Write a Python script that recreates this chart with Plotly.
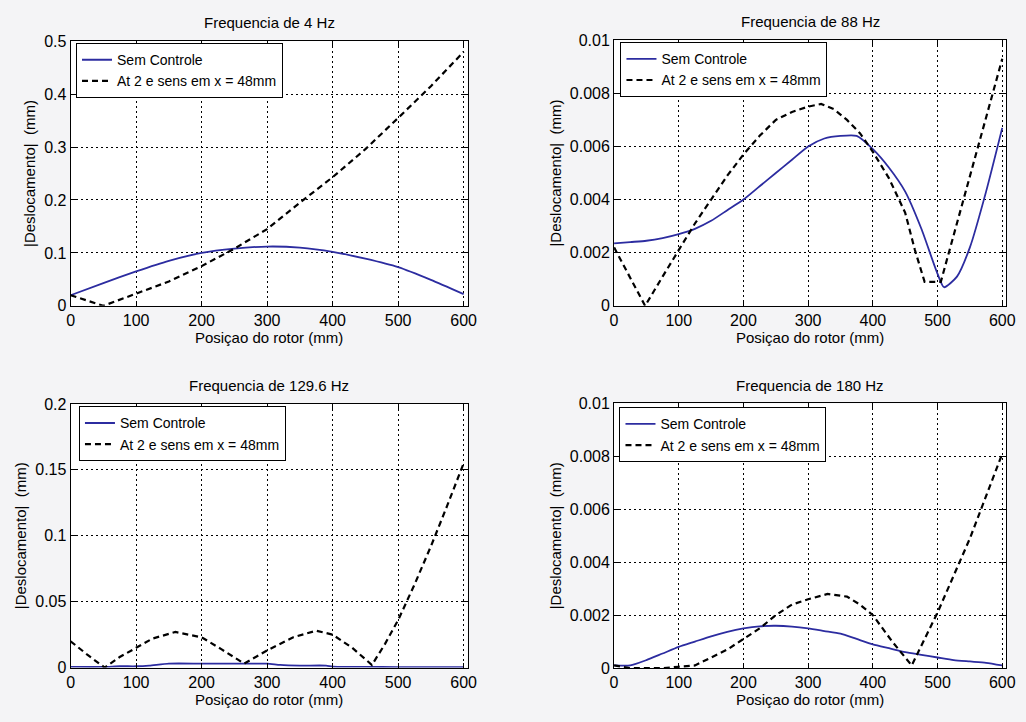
import plotly.graph_objects as go

# ---------------- data ----------------
titles = ["Frequencia de 4 Hz", "Frequencia de 88 Hz", "Frequencia de 129.6 Hz", "Frequencia de 180 Hz"]
series_names = ["Sem Controle", "At 2 e sens em x = 48mm"]
x_label = "Posiçao do rotor (mm)"
y_label = "|Deslocamento| \u00a0(mm)"

x_ticks = [0, 100, 200, 300, 400, 500, 600]
x_ticklabels = ["0", "100", "200", "300", "400", "500", "600"]

# 4 Hz
f1_sem_x = [0, 50, 100, 150, 200, 250, 300, 350, 400, 450, 500, 550, 600]
f1_sem_y = [0.02, 0.043, 0.065, 0.085, 0.100, 0.108, 0.112, 0.110, 0.102, 0.089, 0.073, 0.049, 0.022]
f1_at_x = [0, 50, 100, 150, 200, 250, 300, 350, 400, 450, 500, 550, 600]
f1_at_y = [0.02, 0.0, 0.023, 0.046, 0.075, 0.108, 0.145, 0.195, 0.243, 0.296, 0.355, 0.415, 0.48]
f1_yticks = [0, 0.1, 0.2, 0.3, 0.4, 0.5]
f1_yticklabels = ["0", "0.1", "0.2", "0.3", "0.4", "0.5"]

# 88 Hz
f2_sem_x = [0, 25, 50, 75, 100, 125, 150, 175, 200, 225, 250, 275, 300, 325, 350, 375, 400,
            425, 450, 475, 500, 510, 530, 550, 575, 600]
f2_sem_y = [0.00235, 0.0024, 0.00245, 0.00255, 0.0027, 0.0029, 0.0032, 0.0036, 0.0040, 0.0045,
            0.0050, 0.0055, 0.0060, 0.0063, 0.0064, 0.0064, 0.0059, 0.0052, 0.0043, 0.0029,
            0.0012, 0.0007, 0.0011, 0.0022, 0.0043, 0.0067]
f2_at_x = [0, 48, 75, 100, 125, 150, 175, 200, 225, 250, 275, 300, 320, 340, 360, 380, 400,
           425, 450, 465, 480, 505, 550, 600]
f2_at_y = [0.0022, 0.0, 0.0011, 0.0021, 0.0031, 0.0040, 0.0049, 0.0057, 0.0064, 0.0070, 0.0073,
           0.0075, 0.0076, 0.0074, 0.0070, 0.0065, 0.0058, 0.0048, 0.0035, 0.0021, 0.0009,
           0.0009, 0.0049, 0.0093]
f2_yticks = [0, 0.002, 0.004, 0.006, 0.008, 0.01]
f2_yticklabels = ["0", "0.002", "0.004", "0.006", "0.008", "0.01"]

# 129.6 Hz
f3_sem_x = [0, 50, 75, 100, 120, 150, 200, 250, 300, 320, 350, 390, 400, 450, 500, 550, 600]
f3_sem_y = [0.0005, 0.0005, 0.001, 0.001, 0.0015, 0.003, 0.003, 0.003, 0.003, 0.002, 0.0015,
            0.0015, 0.0007, 0.0005, 0.0004, 0.0003, 0.0003]
f3_at_x = [0, 25, 52, 75, 100, 125, 160, 200, 230, 265, 300, 340, 375, 400, 430, 460, 480,
           500, 525, 550, 575, 600]
f3_at_y = [0.020, 0.010, 0.0, 0.008, 0.015, 0.022, 0.027, 0.023, 0.014, 0.003, 0.013, 0.023,
           0.028, 0.025, 0.015, 0.002, 0.018, 0.036, 0.063, 0.092, 0.123, 0.155]
f3_yticks = [0, 0.05, 0.1, 0.15, 0.2]
f3_yticklabels = ["0", "0.05", "0.1", "0.15", "0.2"]

# 180 Hz
f4_sem_x = [0, 25, 50, 75, 100, 125, 150, 175, 200, 225, 250, 275, 300, 325, 350, 375, 400,
            425, 450, 475, 500, 525, 550, 575, 600]
f4_sem_y = [0.0001, 0.0001, 0.0003, 0.00055, 0.0008, 0.001, 0.0012, 0.00137, 0.0015, 0.00158,
            0.0016, 0.00157, 0.0015, 0.0014, 0.0013, 0.0011, 0.0009, 0.00075, 0.0006, 0.0005,
            0.0004, 0.0003, 0.00025, 0.0002, 0.0001]
f4_at_x = [0, 25, 50, 75, 100, 125, 150, 175, 200, 225, 250, 275, 300, 330, 360, 380, 400,
           430, 460, 500, 550, 600]
f4_at_y = [0.0001, 0.0, 0.0, 0.0, 0.00005, 0.0001, 0.0004, 0.0007, 0.0011, 0.0015, 0.0020,
           0.0024, 0.0026, 0.0028, 0.0027, 0.0024, 0.0020, 0.0010, 0.0001, 0.0021, 0.0049, 0.0081]
f4_yticks = [0, 0.002, 0.004, 0.006, 0.008, 0.01]
f4_yticklabels = ["0", "0.002", "0.004", "0.006", "0.008", "0.01"]

panels = [
    (f1_sem_x, f1_sem_y, f1_at_x, f1_at_y, f1_yticks, f1_yticklabels),
    (f2_sem_x, f2_sem_y, f2_at_x, f2_at_y, f2_yticks, f2_yticklabels),
    (f3_sem_x, f3_sem_y, f3_at_x, f3_at_y, f3_yticks, f3_yticklabels),
    (f4_sem_x, f4_sem_y, f4_at_x, f4_at_y, f4_yticks, f4_yticklabels),
]

# ---------------- layout geometry ----------------
W, H = 1026, 722
xdoms = [(67.5 / W, 470 / W), (618.5 / W, 1016 / W), (67.5 / W, 470 / W), (618.5 / W, 1016 / W)]
ydoms = [(1 - 305 / H, 1 - 34 / H), (1 - 305 / H, 1 - 33 / H),
         (1 - 675.5 / H, 1 - 405.5 / H), (1 - 676 / H, 1 - 405 / H)]
legend_pos = [(73, 36), (625, 35), (76, 408), (624, 409)]

BLUE = "#2c2ca0"
FONT = "Liberation Sans, Arial, sans-serif"

fig = go.Figure()
layout = dict(
    width=W, height=H,
    paper_bgcolor="#f4f4f6", plot_bgcolor="white",
    margin=dict(l=0, r=0, t=0, b=0),
    font=dict(family=FONT, color="black", size=14),
    annotations=[],
)

for i, (sx, sy, ax, ay, yt, ytl) in enumerate(panels):
    n = i + 1
    suf = "" if n == 1 else str(n)
    leg = "legend" if n == 1 else f"legend{n}"
    fig.add_trace(go.Scatter(x=sx, y=sy, mode="lines", name=series_names[0],
                             line=dict(color=BLUE, width=1.8, shape="spline", smoothing=0.6),
                             xaxis="x" + suf, yaxis="y" + suf, legend=leg))
    fig.add_trace(go.Scatter(x=ax, y=ay, mode="lines", name=series_names[1],
                             line=dict(color="black", width=2.2, dash="6px,4px"),
                             xaxis="x" + suf, yaxis="y" + suf, legend=leg))
    common = dict(showline=True, linecolor="black", linewidth=1, mirror="allticks",
                  ticks="inside", ticklen=5, tickcolor="black",
                  showgrid=True, gridcolor="black", gridwidth=1, griddash="2px,3px",
                  zeroline=False, tickfont=dict(size=16, family=FONT))
    layout["xaxis" + suf] = dict(common, domain=list(xdoms[i]), range=[0, 606],
                                 anchor="y" + suf, tickvals=x_ticks, ticktext=x_ticklabels,
                                 title=dict(text=x_label, font=dict(size=15), standoff=3))
    layout["yaxis" + suf] = dict(common, domain=list(ydoms[i]), range=[yt[0], yt[-1]],
                                 anchor="x" + suf, tickvals=yt, ticktext=ytl,
                                 title=dict(text=y_label, font=dict(size=15), standoff=4))
    lx, ly = legend_pos[i]
    layout[leg] = dict(x=lx / W, y=1 - ly / H, xanchor="left", yanchor="top",
                       bgcolor="white", bordercolor="black", borderwidth=1,
                       font=dict(size=14, family=FONT), itemwidth=30, tracegroupgap=0)
    layout["annotations"].append(dict(
        text=titles[i], xref="paper", yref="paper",
        x=(xdoms[i][0] + xdoms[i][1]) / 2, y=ydoms[i][1] + 8 / H,
        xanchor="center", yanchor="bottom", showarrow=False,
        font=dict(size=15, family=FONT)))

fig.update_layout(**layout)
fig.write_html("out.html")
